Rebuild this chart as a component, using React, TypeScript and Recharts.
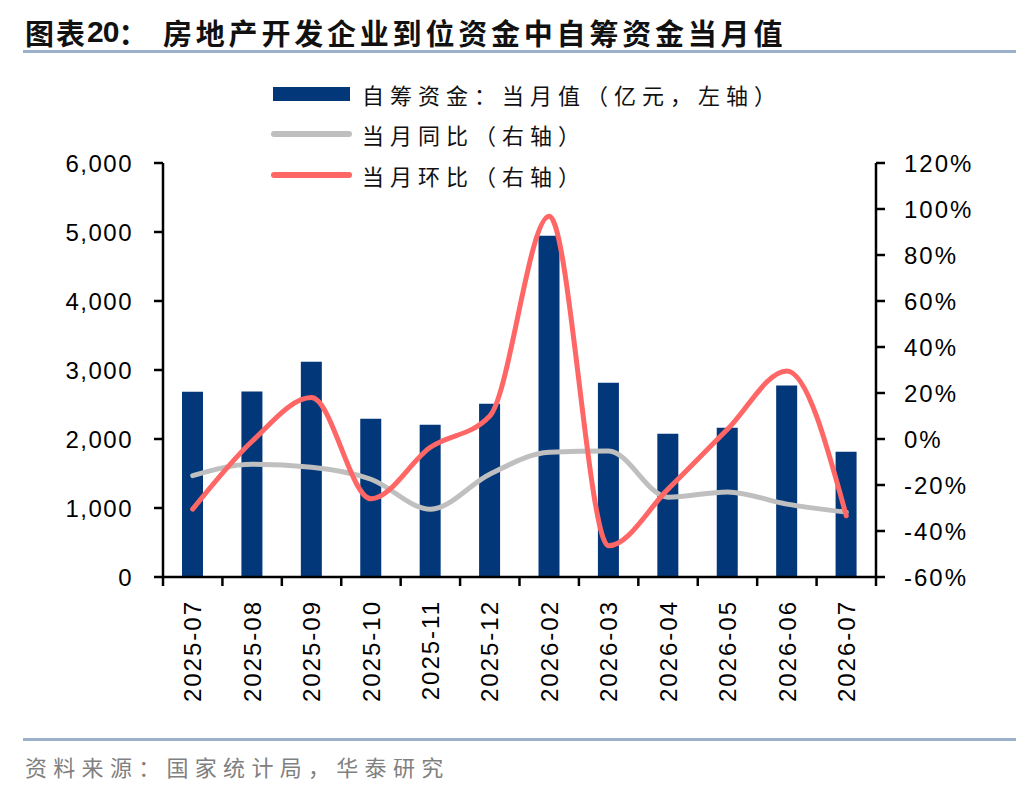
import { ComposedChart, Bar, Line, XAxis, YAxis } from 'recharts';

const months = ['2025-07', '2025-08', '2025-09', '2025-10', '2025-11', '2025-12', '2026-02', '2026-03', '2026-04', '2026-05', '2026-06', '2026-07'];
// 自筹资金：当月值（亿元）
const selfFunds = [2685, 2690, 3118, 2294, 2207, 2511, 4944, 2815, 2077, 2164, 2776, 1817];
// 当月同比（%）
const yoyPct = [-15.9, -11, -12.3, -17.5, -30.5, -15.3, -5.8, -5.2, -25.3, -23, -28.3, -31.8];
// 当月环比（%）
const momPct = [-30.5, -1, 18, -26, -3.6, 10, 96.8, -46.4, -21.8, 4.2, 29.6, -33.4];
const leftTicks = [0, 1000, 2000, 3000, 4000, 5000, 6000];
const rightTicks = [-60, -40, -20, 0, 20, 40, 60, 80, 100, 120];

const data = months.map((m, i) => ({ month: m, funds: selfFunds[i], yoy: yoyPct[i], mom: momPct[i] }));

const NAVY = '#02377a';
const GRAY = '#bfbfbf';
const RED = '#ff6666';
const AXIS_FONT = "'Liberation Sans', Arial, sans-serif";
const CJK = "'Noto Sans CJK SC', sans-serif";

function MonthTick(props: any) {
  const { x, y, payload, index } = props;
  const half = payload?.offset ?? 29.7;
  const axisY = y - 23;
  return (
    <g>
      <line x1={x - half} x2={x - half} y1={axisY} y2={axisY + 9} stroke="#000" strokeWidth={2.5} />
      {index === months.length - 1 && (
        <line x1={x + half} x2={x + half} y1={axisY} y2={axisY + 9} stroke="#000" strokeWidth={2.5} />
      )}
      <text
        x={x}
        y={y}
        dy="0.36em"
        transform={`rotate(-90, ${x}, ${y})`}
        textAnchor="end"
        fill="#000"
        fontSize={24}
        letterSpacing={2}
        fontFamily={AXIS_FONT}
      >
        {payload.value}
      </text>
    </g>
  );
}

function LegendRow({ top, label, kind, color }: { top: number; label: string; kind: 'bar' | 'line'; color: string }) {
  return (
    <div style={{ position: 'absolute', left: 271, top: top - 15, height: 30, display: 'flex', alignItems: 'center' }}>
      {kind === 'bar' ? (
        <div style={{ width: 77, height: 14, background: color, marginLeft: 2, marginRight: 12 }} />
      ) : (
        <div style={{ width: 81, height: 6, borderRadius: 3, background: color, marginRight: 10 }} />
      )}
      <span style={{ fontFamily: CJK, fontSize: 22, letterSpacing: 6, color: '#111' }}>{label}</span>
    </div>
  );
}

export default function App() {
  return (
    <div style={{ position: 'absolute', left: 0, top: 0, width: 1036, height: 792, background: '#fff', overflow: 'hidden' }}>
      <ComposedChart
        width={1036}
        height={792}
        data={data}
        margin={{ top: 163, right: 0, bottom: 0, left: 0 }}
        barSize={21}
      >
        <XAxis
          dataKey="month"
          xAxisId="x"
          height={215}
          tick={<MonthTick />}
          tickLine={false}
          tickSize={8}
          tickMargin={15}
          interval={0}
          axisLine={{ stroke: '#000', strokeWidth: 2.5 }}
        />
        <YAxis
          yAxisId="left"
          width={163}
          domain={[0, 6000]}
          ticks={leftTicks}
          interval={0}
          tickSize={9}
          tickMargin={21}
          tickFormatter={(v: number) => v.toLocaleString('en-US')}
          tick={{ fill: '#000', fontSize: 24, fontFamily: AXIS_FONT, letterSpacing: 1.5 }}
          axisLine={{ stroke: '#000', strokeWidth: 2.5 }}
          tickLine={{ stroke: '#000', strokeWidth: 2.5 }}
        />
        <YAxis
          yAxisId="right"
          orientation="right"
          width={160}
          domain={[-60, 120]}
          ticks={rightTicks}
          interval={0}
          tickSize={9}
          tickMargin={19}
          tickFormatter={(v: number) => `${v}%`}
          tick={{ fill: '#000', fontSize: 24, fontFamily: AXIS_FONT, letterSpacing: 2 }}
          axisLine={{ stroke: '#000', strokeWidth: 2.5 }}
          tickLine={{ stroke: '#000', strokeWidth: 2.5 }}
        />
        <Bar xAxisId="x" yAxisId="left" dataKey="funds" fill={NAVY} isAnimationActive={false} />
        <Line
          xAxisId="x"
          yAxisId="right"
          type="monotone"
          dataKey="yoy"
          stroke={GRAY}
          strokeWidth={5}
          strokeLinecap="round"
          dot={false}
          isAnimationActive={false}
        />
        <Line
          xAxisId="x"
          yAxisId="right"
          type="monotone"
          dataKey="mom"
          stroke={RED}
          strokeWidth={5}
          strokeLinecap="round"
          dot={false}
          isAnimationActive={false}
        />
      </ComposedChart>

      <div style={{ position: 'absolute', left: 25, top: 12, height: 40, display: 'flex', alignItems: 'center', fontWeight: 'bold', color: '#111' }}>
        <span style={{ fontFamily: CJK, fontSize: 29, letterSpacing: 2 }}>图表</span>
        <span style={{ fontFamily: AXIS_FONT, fontSize: 30, letterSpacing: -1 }}>20</span>
        <span style={{ fontFamily: CJK, fontSize: 29 }}>：</span>
      </div>
      <div style={{ position: 'absolute', left: 163, top: 12, height: 40, display: 'flex', alignItems: 'center', fontFamily: CJK, fontSize: 29, letterSpacing: 3.8, fontWeight: 'bold', color: '#111', whiteSpace: 'nowrap' }}>
        房地产开发企业到位资金中自筹资金当月值
      </div>
      <div style={{ position: 'absolute', left: 23, top: 50, width: 993, height: 3, background: '#9cb1c9' }} />

      <LegendRow top={94} label="自筹资金：当月值（亿元，左轴）" kind="bar" color={NAVY} />
      <LegendRow top={134} label="当月同比（右轴）" kind="line" color={GRAY} />
      <LegendRow top={175} label="当月环比（右轴）" kind="line" color={RED} />

      <div style={{ position: 'absolute', left: 23, top: 738, width: 993, height: 3, background: '#9cb1c9' }} />
      <div style={{ position: 'absolute', left: 25, top: 750, fontFamily: CJK, fontSize: 22, letterSpacing: 6.3, color: '#808080', whiteSpace: 'nowrap' }}>
        资料来源：国家统计局，华泰研究
      </div>
    </div>
  );
}
